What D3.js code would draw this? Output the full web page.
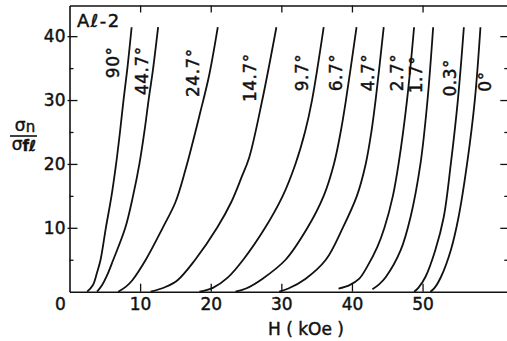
<!DOCTYPE html>
<html>
<head>
<meta charset="utf-8">
<script src="https://cdn.jsdelivr.net/npm/d3@7"></script>
<style>
  html, body { margin: 0; padding: 0; background: #fff; }
  svg { display: block; }
  text { font-family: "DejaVu Sans", sans-serif; fill: #111; }
</style>
</head>
<body>
<svg id="chart" width="507" height="341"></svg>
<script>
// Normalised conductivity sigma_n / sigma_fl versus field H for sample Al-2,
// one curve per field angle.
const angles = ["90°", "44.7°", "24.7°", "14.7°", "9.7°", "6.7°", "4.7°", "2.7°", "1.7°", "0.3°", "0°"];

// Field H (kOe) along each curve
const fieldH = [
  [2.5, 3.3, 3.9, 4.4, 5.15, 5.95, 6.6, 7.15, 7.65, 8.2, 8.8],
  [3.9, 4.6, 5.3, 6.2, 7.9, 9.0, 9.9, 10.6, 11.2, 11.85, 12.55],
  [6.9, 8.0, 8.9, 10.8, 13.2, 15.0, 16.4, 18.5, 19.8, 21.0],
  [11.5, 13.5, 15.3, 17.8, 20.9, 22.9, 24.4, 25.45, 27.3, 29.3],
  [18.4, 20.3, 22.4, 24.6, 27.7, 30.2, 32.0, 33.35, 34.35, 36.0],
  [23.5, 25.0, 27.3, 30.6, 33.7, 36.0, 37.45, 38.4, 39.15, 40.65],
  [29.7, 31.0, 33.4, 36.3, 38.7, 40.7, 41.95, 42.75, 43.35, 44.5],
  [38.1, 39.6, 41.0, 42.2, 43.6, 44.6, 45.8, 46.6, 47.8, 48.8],
  [42.9, 43.8, 44.8, 46.9, 48.3, 49.7, 50.7, 51.5],
  [48.8, 49.4, 50.4, 51.8, 53.0, 54.0, 55.0, 55.85],
  [51.1, 51.7, 52.6, 54.0, 55.1, 56.3, 57.4, 58.2]
];

// sigma_n / sigma_fl at the matching field values
const sigmaRatio = [
  [0, 1, 3, 5, 10, 15, 20, 25, 30, 35, 41.4],
  [0, 1, 2.5, 5, 10, 15, 20, 25, 30, 35, 41.4],
  [0, 0.8, 1.8, 5, 10, 14, 19, 28, 34, 41.4],
  [0, 0.7, 1.8, 5, 10, 14, 18, 21, 30, 41.4],
  [0, 0.6, 2.2, 5, 10, 15, 20, 25, 30, 41.4],
  [0, 0.5, 2, 5, 10, 15, 20, 25, 30, 41.4],
  [0, 0.5, 2, 5, 10, 15, 20, 25, 30, 41.4],
  [0.5, 1, 2, 4, 7, 10, 15, 20, 30, 41.4],
  [0.4, 1.1, 2.3, 6.5, 11.7, 20, 30, 41.4],
  [0, 0.6, 2.3, 6.5, 11.7, 20, 30, 41.4],
  [0, 0.6, 2.3, 6.5, 11.7, 20, 30, 41.4]
];

// Where each angle label sits, in data coordinates (H, sigma ratio)
const labelH = [6.2, 10.3, 17.5, 25.6, 32.9, 37.7, 42.3, 46.4, 49.1, 53.9, 58.9];
const labelS = [35.9, 34.6, 34.3, 33.5, 34.3, 34.3, 34.3, 34.3, 34.0, 33.5, 32.9];

const xMajor = [10, 20, 30, 40, 50];
const yMajor = [10, 20, 30, 40];
const yMinor = [5, 15, 25, 35];

const svg = d3.select("#chart");
const padL = 69.5, padR = 507.3, padT = 5.5, padB = 291.7;

const x = d3.scaleLinear().domain([0, 62]).range([padL, padR]);
const y = d3.scaleLinear().domain([0, 44.8]).range([padB, padT]);

const g = svg.append("g");
const ink = "#111";

function inkText(sel, size) {
  sel.attr("font-size", size).attr("fill", ink)
     .attr("stroke", ink).attr("stroke-width", 0.45)
     .attr("font-family", "'DejaVu Sans', sans-serif");
}

function styleAxis(sel, hideDomain) {
  sel.selectAll("line").attr("stroke", ink).attr("stroke-width", 1.3);
  sel.select(".domain").attr("stroke", ink).attr("stroke-width", 1.6);
  if (hideDomain) sel.select(".domain").remove();
  sel.selectAll("text").call(inkText, 17);
}

// Left axis: major ticks with labels, minor ticks without
g.append("g").attr("transform", `translate(${padL},0)`)
  .call(d3.axisLeft(y).tickValues(yMajor).tickSize(-8).tickSizeOuter(0).tickPadding(4))
  .call(s => styleAxis(s, false))
  .call(s => s.selectAll(".tick line").attr("x1", -2));
g.append("g").attr("transform", `translate(${padL},0)`)
  .call(d3.axisLeft(y).tickValues(yMinor).tickSize(-4).tickSizeOuter(0).tickFormat(""))
  .call(s => styleAxis(s, true));

// Right side ticks
g.append("g").attr("transform", `translate(${padR},0)`)
  .call(d3.axisRight(y).tickValues(yMajor).tickSize(-7).tickSizeOuter(0).tickFormat(""))
  .call(s => styleAxis(s, true));
g.append("g").attr("transform", `translate(${padR},0)`)
  .call(d3.axisRight(y).tickValues(yMinor).tickSize(-3).tickSizeOuter(0).tickFormat(""))
  .call(s => styleAxis(s, true));

// Bottom axis
g.append("g").attr("transform", `translate(0,${padB})`)
  .call(d3.axisBottom(x).tickValues(xMajor).tickSize(-8).tickSizeOuter(0).tickPadding(6))
  .call(s => styleAxis(s, false));
// Top axis
g.append("g").attr("transform", `translate(0,${padT})`)
  .call(d3.axisTop(x).tickValues(xMajor).tickSize(-7).tickSizeOuter(0).tickFormat(""))
  .call(s => styleAxis(s, false));

// Shared origin label
g.append("text").attr("x", x(0) - 9).attr("y", padB + 6).attr("dy", "0.71em")
  .attr("text-anchor", "middle").call(inkText, 17).text("0");

// Curves
const line = d3.line()
  .x(d => x(d[0])).y(d => y(d[1]))
  .curve(d3.curveCatmullRom.alpha(0.5));

angles.forEach((a, i) => {
  const pts = fieldH[i].map((h, j) => [h, sigmaRatio[i][j]]);
  g.append("path").datum(pts)
    .attr("d", line)
    .attr("fill", "none")
    .attr("stroke", ink)
    .attr("stroke-width", 1.8);
  g.append("text")
    .attr("transform", `translate(${x(labelH[i])},${y(labelS[i])}) rotate(-90)`)
    .attr("text-anchor", "middle")
    .attr("dominant-baseline", "central")
    .call(inkText, 17)
    .attr("letter-spacing", 0.5)
    .text(a);
});

// Sample name
g.append("text").attr("x", 77).attr("y", 27).call(inkText, 18)
  .attr("letter-spacing", 1.5)
  .text("Aℓ-2");

// Axis titles
g.append("text").attr("x", 306).attr("y", 335).attr("text-anchor", "middle")
  .call(inkText, 17).attr("xml:space", "preserve").text("H ( kOe )");

const yl = g.append("g");
const num = yl.append("text").attr("x", 25).attr("y", 131).attr("text-anchor", "middle")
  .call(inkText, 17);
num.append("tspan").text("σ");
num.append("tspan").attr("font-size", 15).attr("dy", 1).text("n");
yl.append("line").attr("x1", 10).attr("x2", 37).attr("y1", 136).attr("y2", 136)
  .attr("stroke", ink).attr("stroke-width", 1.6);
const den = yl.append("text").attr("x", 24).attr("y", 150).attr("text-anchor", "middle")
  .call(inkText, 17);
den.append("tspan").text("σ");
den.append("tspan").attr("font-size", 15).attr("font-weight", "bold").attr("dy", 1).text("fℓ");
</script>
</body>
</html>
